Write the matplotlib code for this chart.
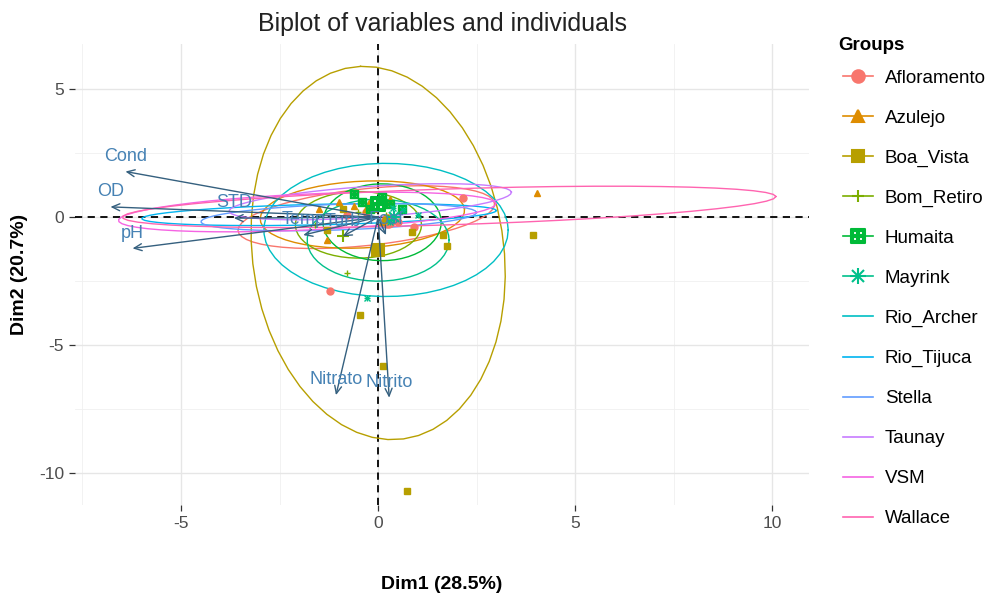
import numpy as np
import matplotlib
matplotlib.use("Agg")
import matplotlib.pyplot as plt
from matplotlib.lines import Line2D
from matplotlib.legend_handler import HandlerTuple

plt.rcParams['font.family'] = ['Liberation Sans', 'DejaVu Sans']
plt.rcParams['axes.unicode_minus'] = False

# ---------------- data ----------------
groups = ["Afloramento", "Azulejo", "Boa_Vista", "Bom_Retiro", "Humaita", "Mayrink",
          "Rio_Archer", "Rio_Tijuca", "Stella", "Taunay", "VSM", "Wallace"]
colors = ["#F8766D", "#DE8C00", "#B79F00", "#7CAE00", "#00BA38", "#00C08B",
          "#00BFC4", "#00B4F0", "#619CFF", "#C77CFF", "#F564E3", "#FF64B0"]
markers = ["o", "^", "s", "+", "$\u229E$", "asterisk", None, None, None, None, None, None]

# individuals (only groups with a shape are visible)
afl_x = [2.16, -1.22, 0.5, 0.9, -0.3, 0.2, -0.8]
afl_y = [0.74, -2.89, -0.2, -0.4, 0.2, 0.5, 0.1]
azu_x = [4.04, -1.29, -1.0, -0.6, -0.2, 0.3, -1.5, 0.1]
azu_y = [0.94, -0.90, 0.6, 0.45, 0.3, 0.7, 0.3, -0.2]
boa_x = [0.74, 0.13, -0.46, 3.93, 1.65, 1.75, 0.86, -1.3, -0.9, 0.2]
boa_y = [-10.7, -5.8, -3.83, -0.70, -0.70, -1.13, -0.59, -0.5, 0.3, -0.1]
bom_x = [-0.79, -0.5, 0.2, -1.6]
bom_y = [-2.19, 0.2, 0.1, -0.3]
hum_x = [-0.4, 0.3, 0.1, -0.2, 0.6, -0.6]
hum_y = [0.6, 0.5, 0.8, 0.3, 0.3, 0.9]
may_x = [-0.28, 0.38, 0.63, 1.0, 0.3]
may_y = [-3.16, 0.35, 0.27, 0.1, -0.2]
points_x = [afl_x, azu_x, boa_x, bom_x, hum_x, may_x]
points_y = [afl_y, azu_y, boa_y, bom_y, hum_y, may_y]

# group means
mean_x = [0.25, -0.2, 0.0, -0.9, 0.0, 0.4]
mean_y = [-0.15, 0.45, -1.3, -0.75, 0.5, 0.0]

# concentration ellipses: centre, semi-axes, angle (deg)
ell_cx = [-0.3, -0.4, 0.0, -0.5, 0.1, 0.0, 0.2, -1.5, -1.0, -0.2, -1.8, 1.8]
ell_cy = [0.0, 0.1, -1.4, -0.3, -0.2, -0.9, -0.5, 0.1, 0.0, 0.6, 0.2, 0.4]
ell_a = [3.3, 2.6, 7.3, 1.6, 1.5, 1.8, 3.1, 4.5, 3.5, 3.6, 4.8, 8.3]
ell_b = [1.1, 1.3, 3.2, 1.3, 1.5, 1.6, 2.6, 0.4, 0.5, 0.6, 0.7, 0.7]
ell_ang = [10, 5, 93.5, 0, 0, 0, 0, 2, 3, 6, 4, 2.8]

# variables
var_names = ["Cond", "OD", "pH", "STD", "Nitrato", "Nitrito", "Temp", "Turb", "Fosf"]
var_x = [-6.41, -6.79, -6.23, -3.66, -1.07, 0.28, -1.9, -0.9, 0.2]
var_y = [1.78, 0.40, -1.22, -0.04, -6.95, -7.05, -0.7, -0.75, -0.7]

title = "Biplot of variables and individuals"
xlab = "Dim1 (28.5%)"
ylab = "Dim2 (20.7%)"
xticks = [-5, 0, 5, 10]
yticks = [-10, -5, 0, 5]

# ---------------- figure ----------------
fig = plt.figure(figsize=(9.89, 6.01), dpi=100)
ax = fig.add_axes([75/989, 1-505/601, 734/989, 461/601])
ax.set_xlim(-7.69, 10.93)
ax.set_ylim(-11.24, 6.76)

for s in ax.spines.values():
    s.set_visible(False)
ax.set_xticks(xticks)
ax.set_yticks(yticks)
ax.set_xticks([-7.5, -2.5, 2.5, 7.5], minor=True)
ax.set_yticks([-7.5, -2.5, 2.5], minor=True)
ax.grid(True, which='major', color='#E6E6E6', lw=1.0, zorder=0)
ax.grid(True, which='minor', color='#F0F0F0', lw=0.6, zorder=0)
ax.tick_params(which='major', length=4, width=0.9, color='#333333',
               labelsize=12.5, labelcolor='#4D4D4D', pad=4)
ax.tick_params(which='minor', length=0)
ax.set_axisbelow(True)

ax.axhline(0, color='black', lw=1.3, ls=(0, (4, 3)), zorder=2)
ax.axvline(0, color='black', lw=1.3, ls=(0, (4, 3)), zorder=2)

# ellipses
t = np.linspace(0, 2*np.pi, 52)
for cx, cy, a, b, ang, col in zip(ell_cx, ell_cy, ell_a, ell_b, ell_ang, colors):
    th = np.deg2rad(ang)
    ex = cx + a*np.cos(t)*np.cos(th) - b*np.sin(t)*np.sin(th)
    ey = cy + a*np.cos(t)*np.sin(th) + b*np.sin(t)*np.cos(th)
    ax.plot(ex, ey, color=col, lw=1.0, zorder=3)


def draw(xs, ys, m, col, ms, mew):
    if m == "asterisk":
        ax.plot(xs, ys, ls='none', marker='+', color=col, ms=ms, mew=mew, zorder=4)
        ax.plot(xs, ys, ls='none', marker='x', color=col, ms=ms*0.75, mew=mew, zorder=4)
    else:
        ax.plot(xs, ys, ls='none', marker=m, color=col, ms=ms, mew=mew, zorder=4)


# points
for i in range(6):
    m = markers[i]
    small = 6 if m == "$\u229E$" else 5
    big = 10 if m == "$\u229E$" else 9
    draw(points_x[i], points_y[i], m, colors[i], small, 1.0)
    draw([mean_x[i]], [mean_y[i]], m, colors[i], big, 1.5)

# variable arrows
for name, vx, vy in zip(var_names, var_x, var_y):
    ax.annotate("", xy=(vx, vy), xytext=(0, 0),
                arrowprops=dict(arrowstyle="->,head_length=0.55,head_width=0.25",
                                color='#35607F', lw=1.0, shrinkA=0, shrinkB=0),
                zorder=5)
    ax.annotate(name, xy=(vx, vy), xytext=(0, 11), textcoords='offset points',
                ha='center', va='center', fontsize=13, color='#4682B4', zorder=6)

fig.text(442/989, 1-24/601, title, fontsize=18, color='#222222',
         ha='center', va='center')
ax.set_xlabel(xlab, fontsize=14, fontweight='bold', labelpad=32)
ax.set_ylabel(ylab, fontsize=14, fontweight='bold', labelpad=8)

# legend
handles = []
for g, c, m in zip(groups, colors, markers):
    if m is None:
        handles.append(Line2D([], [], color=c, lw=1.2))
    elif m == "asterisk":
        handles.append((Line2D([], [], color=c, lw=1.2, marker='+', ms=11, mew=1.5),
                        Line2D([], [], color=c, lw=0, ls='none', marker='x', ms=8, mew=1.5)))
    else:
        handles.append(Line2D([], [], color=c, lw=1.2, marker=m,
                              ms=9 if m != "$\u229E$" else 10, mew=1.5))
fig.text(838/989, 1-45/601, "Groups", fontsize=13.5, fontweight='bold',
         ha='left', va='center')
leg = fig.legend(handles, groups, loc='upper left',
                 bbox_to_anchor=(835/989, 1-62/601), frameon=False,
                 fontsize=13.5, handlelength=1.65,
                 handletextpad=0.6, labelspacing=1.22, borderaxespad=0,
                 handler_map={tuple: HandlerTuple(ndivide=1, pad=0)})

fig.savefig("out.png", dpi=100)
